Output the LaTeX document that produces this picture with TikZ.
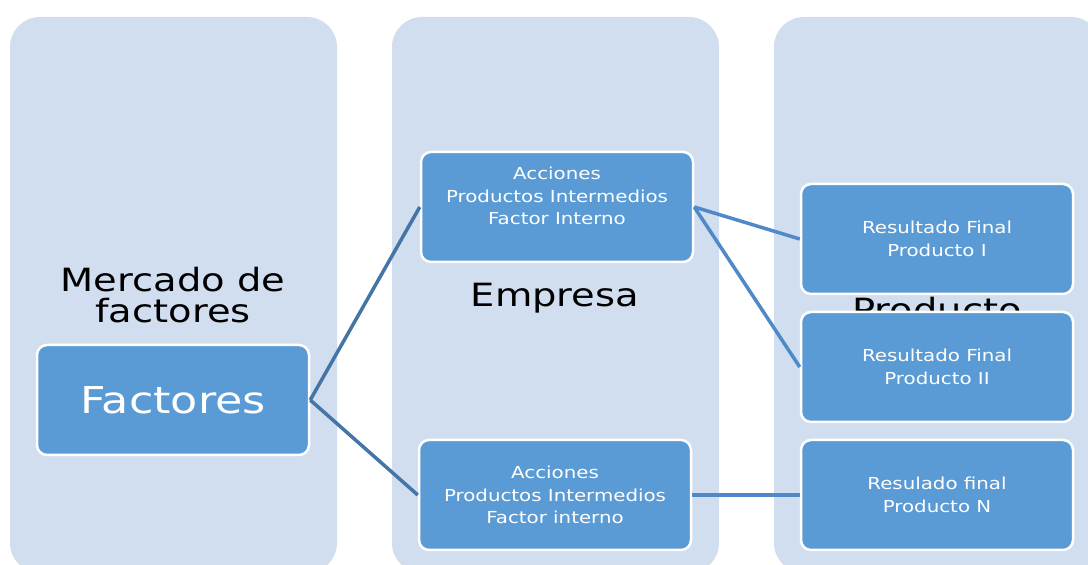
\documentclass[tikz,border=0pt]{standalone}
\usepackage{fontspec}
\setmainfont{DejaVu Sans}[FakeStretch=1.2]
\definecolor{lane}{RGB}{208,222,239}
\definecolor{boxblue}{RGB}{91,155,213}
\definecolor{linkdark}{RGB}{68,117,166}
\definecolor{linklight}{RGB}{80,137,200}
\tikzset{
  lane/.style={fill=lane, draw=none, rounded corners=30pt},
  lanetitle/.style={inner sep=0pt, align=center, font=\fontsize{32}{31}\selectfont},
  stage/.style={fill=boxblue, draw=white, line width=2.5pt, rounded corners=10pt,
                minimum width=272pt, minimum height=110pt, text=white, align=center,
                font=\fontsize{16.5}{22.5}\selectfont},
}
\begin{document}
\begin{tikzpicture}[x=1pt, y=1pt]
\useasboundingbox (0pt,0pt) rectangle (1088pt,565pt);
\begin{scope}
\clip (0pt,0pt) rectangle (1088pt,565pt);
\fill [lane] (10pt,548pt) rectangle (337pt,-8pt);
\fill [lane] (392pt,548pt) rectangle (719pt,-8pt);
\fill [lane] (774pt,548pt) rectangle (1101pt,-8pt);
\end{scope}
\node [lanetitle] (mercado) at (173pt,269.5pt) {Mercado de\\factores};
\node [lanetitle, anchor=base] (empresa) at (555pt,258.5pt) {Empresa};
\node [lanetitle, anchor=base] (producto) at (937pt,243pt) {Producto};
\node [stage, font=\fontsize{37}{40}\selectfont] (factores) at (173pt,165pt) {Factores};
\node [stage] (accionesA) at (557pt,358pt) {Acciones\\Productos Intermedios\\Factor Interno\\~};
\node [stage] (accionesB) at (555pt,70pt) {Acciones\\Productos Intermedios\\Factor interno};
\node [stage] (finalI) at (937pt,326pt) {Resultado Final\\Producto I};
\node [stage] (finalII) at (937pt,198pt) {Resultado Final\\Producto II};
\node [stage] (finalN) at (937pt,70pt) {Resulado final\\Producto N};
\draw [linkdark, line width=3.5pt] (factores.east) -- (accionesA.west);
\draw [linkdark, line width=3.5pt] (factores.east) -- (accionesB.west);
\draw [linklight, line width=3.5pt] (accionesA.east) -- (finalI.west);
\draw [linklight, line width=3.5pt] (accionesA.east) -- (finalII.west);
\draw [linklight, line width=3.5pt] (accionesB.east) -- (finalN.west);
\end{tikzpicture}
\end{document}
